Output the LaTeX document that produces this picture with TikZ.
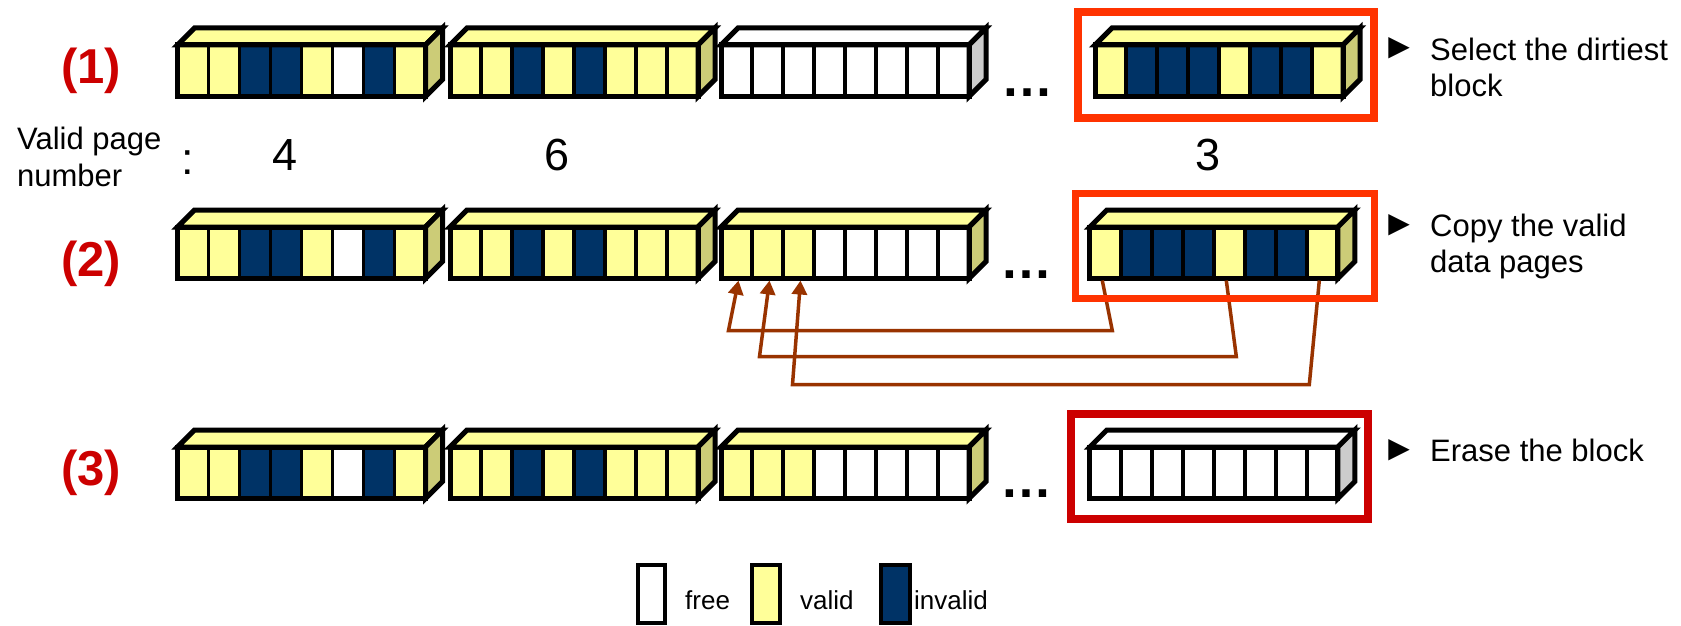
\documentclass[tikz,border=0pt]{standalone}
\usepackage{fontspec}
\setmainfont{Liberation Sans}
\newfontfamily\symfont{DejaVu Sans}
\usetikzlibrary{arrows.meta,calc}

\definecolor{cellV}{HTML}{FFFF99}
\definecolor{cellI}{HTML}{003366}
\definecolor{cellF}{HTML}{FFFFFF}
\definecolor{sideV}{HTML}{CCCC77}
\definecolor{sideF}{HTML}{CCCCCC}
\definecolor{selred}{HTML}{FF3300}
\definecolor{erred}{HTML}{CC0000}
\definecolor{steplbl}{HTML}{CC0000}
\definecolor{copybrown}{HTML}{993300}

\tikzset{
  cell/.style={draw, line width=3.5pt, minimum width=31pt, minimum height=51.5pt,
    inner sep=0pt, outer sep=0pt, anchor=north west},
  blockedge/.style={draw, line width=5pt, line join=miter},
  stepnum/.style={text=steplbl, font=\fontsize{49}{52}\selectfont\bfseries, anchor=base},
  note/.style={font=\fontsize{31}{36.5}\selectfont, align=left, anchor=base west, inner sep=0pt},
  bullet/.style={font=\symfont\fontsize{28}{28}\selectfont, inner sep=0pt},
  count/.style={font=\fontsize{45}{45}\selectfont, anchor=base, inner sep=0pt},
  gap/.style={font=\fontsize{52}{52}\selectfont\bfseries, anchor=base, inner sep=0pt},
  copyline/.style={copybrown, line width=3.5pt, -{Triangle[length=14pt,width=15pt]}},
  legbox/.style={draw, line width=4pt, minimum width=28pt, minimum height=58pt, inner sep=0pt},
  legtext/.style={font=\fontsize{26}{26}\selectfont, anchor=base west, inner sep=0pt},
}

% one flash block: name, x, y of front top edge, cell states, top fill, side fill
\newcommand\pageblock[6]{%
  \foreach \c [count=\i] in {#4} {\node[cell, fill=cell\c] (#1-\i) at ({#2+31*(\i-1)},#3) {};}
  \filldraw[blockedge, fill=#5] (#2,#3) -- ++(17,-17) -- ++(248,0) -- ++(-17,17) -- cycle;
  \filldraw[blockedge, fill=#6] (#2+248,#3) -- ++(17,-17) -- ++(0,51.5) -- ++(-17,17) -- cycle;
  \draw[blockedge] (#2,#3) rectangle ++(248,51.5);
}

\begin{document}
\begin{tikzpicture}[x=1pt, y=-1pt]
\useasboundingbox (0,0) rectangle (1681,626);

% row 1
\pageblock{a1}{177.5}{45}{V,V,I,I,V,F,I,V}{cellV}{sideV}
\pageblock{a2}{450}{45}{V,V,I,V,I,V,V,V}{cellV}{sideV}
\pageblock{a3}{721}{45}{F,F,F,F,F,F,F,F}{white}{sideF}
\pageblock{a4}{1095}{45}{V,I,I,I,V,I,I,V}{cellV}{sideV}
% row 2
\pageblock{b1}{177.5}{227}{V,V,I,I,V,F,I,V}{cellV}{sideV}
\pageblock{b2}{450}{227}{V,V,I,V,I,V,V,V}{cellV}{sideV}
\pageblock{b3}{721}{227}{V,V,V,F,F,F,F,F}{cellV}{sideV}
\pageblock{b4}{1089.8}{227}{V,I,I,I,V,I,I,V}{cellV}{sideV}
% row 3
\pageblock{c1}{177.5}{447}{V,V,I,I,V,F,I,V}{cellV}{sideV}
\pageblock{c2}{450}{447}{V,V,I,V,I,V,V,V}{cellV}{sideV}
\pageblock{c3}{721}{447}{V,V,V,F,F,F,F,F}{cellV}{sideV}
\pageblock{c4}{1089.8}{447}{F,F,F,F,F,F,F,F}{white}{sideF}

% omitted blocks
\node[gap] (gap1) at (1027.5,96.7) {…};
\node[gap] (gap2) at (1026,278) {…};
\node[gap] (gap3) at (1026,497) {…};

% step labels
\node[stepnum] (s1) at (91.3,83) {(1)};
\node[stepnum] (s2) at (91.3,276.5) {(2)};
\node[stepnum] (s3) at (91.3,485) {(3)};

% valid page counts
\node[note, font=\fontsize{31}{37.5}\selectfont] (vpn) at (17,186.5) {Valid page\\number};
\node[count] (colon) at (188,174) {:};
\node[count] (n1) at (285.5,170) {4};
\node[count] (n2) at (557,170) {6};
\node[count] (n3) at (1208,170) {3};

% copying the valid pages
\coordinate (k1) at ($(b4-1.south)+(7,52)$);
\coordinate (j1) at ($(b3-1.south)+(-8,0)$);
\draw[copyline] ($(b4-1.south)+(-3,2)$) -- (k1) -- (k1 -| j1) -- ($(b3-1.south)+(2,2)$);
\coordinate (k2) at ($(b4-5.south)+(7,78)$);
\coordinate (j2) at ($(b3-2.south)+(-8,0)$);
\draw[copyline] ($(b4-5.south)+(-3,2)$) -- (k2) -- (k2 -| j2) -- ($(b3-2.south)+(2,2)$);
\coordinate (k3) at ($(b4-8.south)+(-13,106)$);
\coordinate (j3) at ($(b3-3.south)+(-6,0)$);
\draw[copyline] ($(b4-8.south)+(-3,2)$) -- (k3) -- (k3 -| j3) -- ($(b3-3.south)+(2,2)$);

% victim block frames
\draw[selred, line width=8pt] (1077.5,11.7) rectangle (1374,117.5);
\draw[selred, line width=7pt] (1075,193) rectangle (1374,298);
\draw[erred, line width=8pt] (1071,413.7) rectangle (1368,519);

% step notes
\node[bullet] (t1) at (1399,48.5) {▶};
\node[note] (d1) at (1430,96.5) {Select the dirtiest\\block};
\node[bullet] (t2) at (1399,225) {▶};
\node[note] (d2) at (1430,272.5) {Copy the valid\\data pages};
\node[bullet] (t3) at (1399,450) {▶};
\node[note] (d3) at (1430,461) {Erase the block};

% legend
\node[legbox, fill=cellF, minimum width=27pt] (lfree) at (651.5,594) {};
\node[legtext] (lfreet) at (685,609) {free};
\node[legbox, fill=cellV] (lvalid) at (766,594) {};
\node[legtext] (lvalidt) at (800,609) {valid};
\node[legbox, fill=cellI, minimum width=29pt] (linvalid) at (895.5,594) {};
\node[legtext] (linvalidt) at (914,609) {invalid};
\end{tikzpicture}
\end{document}
